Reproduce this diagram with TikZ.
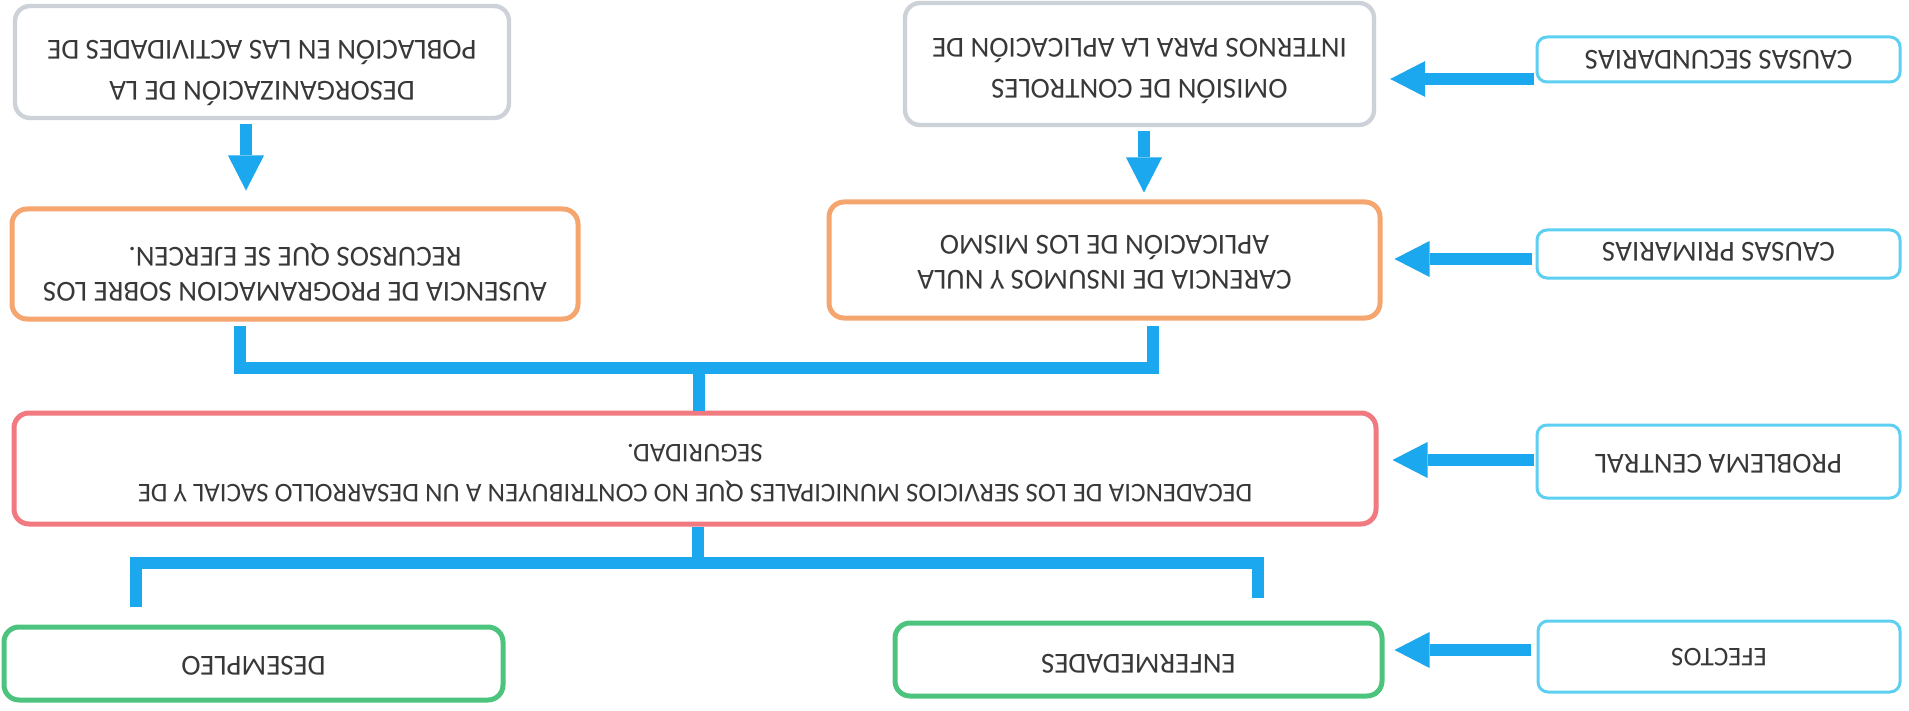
\documentclass[tikz,border=0pt]{standalone}
\usepackage{fontspec}
\setmainfont{Carlito}
\usepackage{graphicx}
\usetikzlibrary{arrows.meta}
\definecolor{grayb}{HTML}{CDD1D8}
\definecolor{orangeb}{HTML}{F5A66E}
\definecolor{redb}{HTML}{F07A80}
\definecolor{greenb}{HTML}{4CC47E}
\definecolor{cyanb}{HTML}{5DD0F2}
\definecolor{blueline}{HTML}{1BA8EE}
\definecolor{txt}{HTML}{383838}
\newcommand\flip[2]{\raisebox{#1}[\height][\depth]{\rotatebox{180}{\begin{tabular}{@{}c@{}}#2\end{tabular}}}}
\tikzset{
  box/.style={draw, rounded corners=7.5pt, inner sep=0pt, fill=white, text=txt,
    font=\fontsize{14.5}{17.5}\selectfont},
  graybox/.style={box, draw=grayb, line width=2.2pt, font=\fontsize{14.5}{20.5}\selectfont},
  orangebox/.style={box, draw=orangeb, line width=2.5pt},
  redbox/.style={box, draw=redb, line width=2.5pt, font=\fontsize{13.5}{20}\selectfont},
  greenbox/.style={box, draw=greenb, line width=2.5pt},
  labbox/.style={box, draw=cyanb, line width=1.5pt, rounded corners=5pt},
  harr/.style={draw=blueline, line width=6pt,
    -{Triangle[length=17.5pt,width=18pt,line width=0pt]}},
  bar/.style={draw=blueline, line width=6pt, line join=miter},
}
\begin{document}
\begin{tikzpicture}[x=0.5pt,y=-0.5pt]
\useasboundingbox (0,0) rectangle (1909,711);
% nodes
\node[graybox, minimum width=247pt, minimum height=56pt] (b1) at (262,62)
  {\flip{-3.5pt}{DESORGANIZACIÓN DE LA\\POBLACIÓN EN LAS ACTIVIDADES DE}};
\node[graybox, minimum width=234.5pt, minimum height=61pt] (b2) at (1139.5,64)
  {\flip{-1.5pt}{OMISIÓN DE CONTROLES\\INTERNOS PARA LA APLICACIÓN DE}};
\node[labbox, minimum width=181.5pt, minimum height=22.5pt] (l1) at (1718.5,59.5)
  {\flip{1pt}{CAUSAS SECUNDARIAS}};
\node[orangebox, minimum width=283pt, minimum height=55pt] (b3) at (295,264)
  {\flip{-4pt}{AUSENCIA DE PROGRAMACION SOBRE LOS\\RECURSOS QUE SE EJERCEN.}};
\node[orangebox, minimum width=275.5pt, minimum height=58pt] (b4) at (1104.5,260)
  {\flip{0pt}{CARENCIA DE INSUMOS Y NULA\\APLICACIÓN DE LOS MISMO}};
\node[labbox, minimum width=181.5pt, minimum height=24pt] (l2) at (1718.5,254)
  {\flip{2.5pt}{CAUSAS PRIMARIAS}};
\node[redbox, minimum width=681pt, minimum height=55.5pt] (b5) at (695,468.5)
  {\flip{-2pt}{DECADENCIA DE LOS SERVICIOS MUNICIPALES QUE NO CONTRIBUYEN A UN DESARROLLO SACIAL Y DE\\SEGURIDAD.}};
\node[labbox, minimum width=181.5pt, minimum height=36.5pt] (l3) at (1718.5,461.5)
  {\flip{0pt}{PROBLEMA CENTRAL}};
\node[greenbox, minimum width=249.5pt, minimum height=36.5pt] (d1) at (253.5,663.5)
  {\flip{0pt}{DESEMPLEO}};
\node[greenbox, minimum width=243.5pt, minimum height=36.5pt] (d2) at (1138.5,659.5)
  {\flip{-1pt}{ENFERMEDADES}};
\node[labbox, minimum width=181pt, minimum height=35.5pt, font=\fontsize{13.5}{16}\selectfont] (l4) at (1719,656.5)
  {\flip{1pt}{EFECTOS}};
% junctions
\coordinate (j1) at (699,367.5);
\coordinate (j2) at (698,563);
% horizontal arrows
\draw[harr, shorten <=1pt, shorten >=7pt] ([yshift=-9.75pt]l1.west) -- ([yshift=-9.75pt]l1.west -| b2.east);
\draw[harr, shorten <=2pt, shorten >=6pt] ([yshift=-2.5pt]l2.west) -- ([yshift=-2.5pt]l2.west -| b4.east);
\draw[harr, shorten <=1pt, shorten >=7pt] ([yshift=0.75pt]l3.west) -- ([yshift=0.75pt]l3.west -| b5.east);
\draw[harr, shorten <=3pt, shorten >=5pt] ([yshift=3.25pt]l4.west) -- ([yshift=3.25pt]l4.west -| d2.east);
% vertical arrows
\draw[harr, shorten <=2pt, shorten >=8pt] ([xshift=-8pt]b1.south) -- ([xshift=-8pt]b1.south |- b3.north);
\draw[harr, shorten <=2pt, shorten >=3.5pt] ([xshift=2.25pt]b2.south) -- ([xshift=2.25pt]b2.south |- b4.north);
% brackets
\draw[bar, shorten <=2pt, shorten >=2.5pt] ([xshift=-27.5pt]b3.south) |- (j1) -| ([xshift=24.25pt]b4.south);
\draw[bar] (j1) -- (j1 |- b5.north);
\draw[bar] (b5.south -| j2) -- (j2);
\draw[bar, shorten <=9pt, shorten >=11.5pt] ([xshift=-58.75pt]d1.north) |- (j2) -| ([xshift=59.75pt]d2.north);
\end{tikzpicture}
\end{document}
